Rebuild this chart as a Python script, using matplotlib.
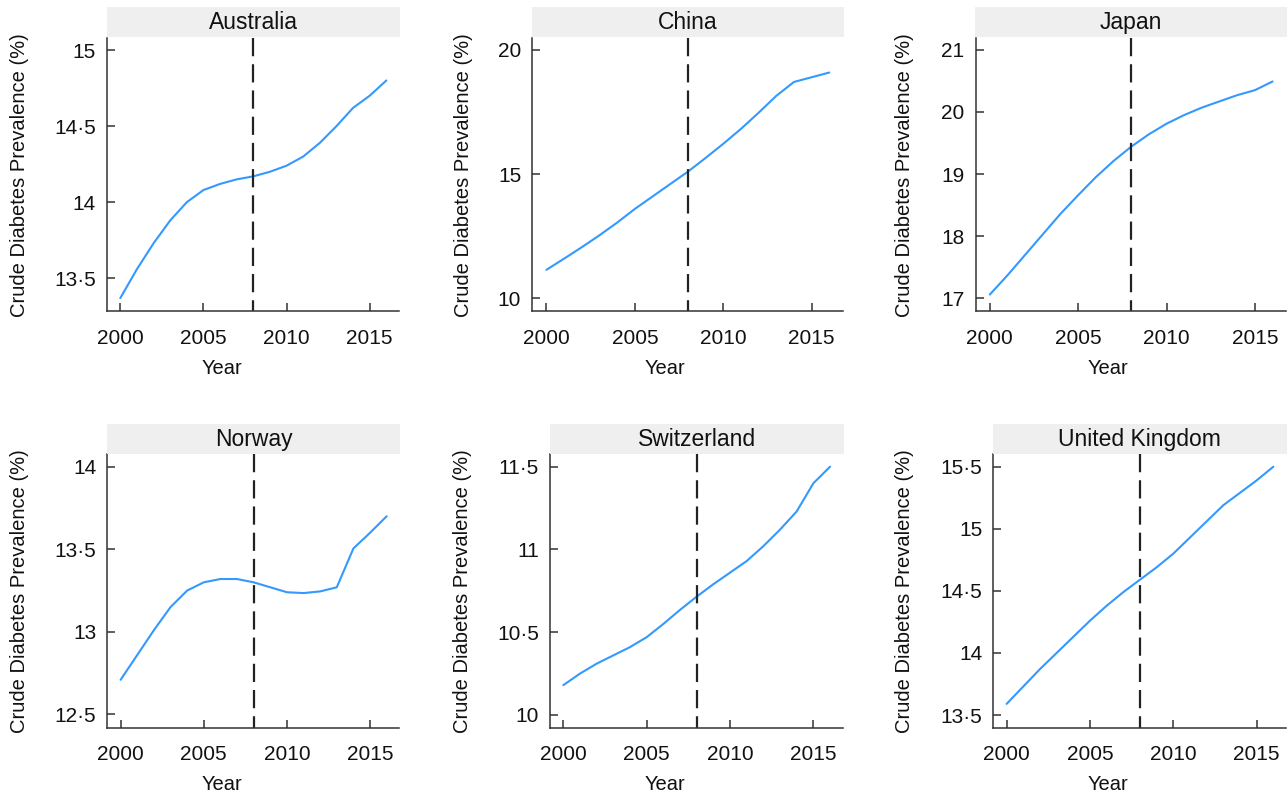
import matplotlib
matplotlib.use("Agg")
import matplotlib.pyplot as plt
from matplotlib.ticker import FixedLocator, FuncFormatter

plt.rcParams["font.family"] = ["Liberation Sans", "DejaVu Sans"]

# ---- data -------------------------------------------------------------
years = list(range(2000, 2017))

australia = [13.37, 13.56, 13.73, 13.88, 14.00, 14.08, 14.12, 14.15, 14.17,
             14.20, 14.24, 14.30, 14.39, 14.50, 14.62, 14.70, 14.80]
china = [11.15, 11.60, 12.06, 12.54, 13.05, 13.60, 14.10, 14.60, 15.10,
         15.65, 16.22, 16.82, 17.47, 18.15, 18.71, 18.90, 19.09]
japan = [17.06, 17.37, 17.70, 18.03, 18.36, 18.66, 18.95, 19.21, 19.44,
         19.64, 19.81, 19.95, 20.07, 20.17, 20.27, 20.35, 20.49]
norway = [12.71, 12.86, 13.01, 13.15, 13.25, 13.30, 13.32, 13.32, 13.30,
          13.27, 13.24, 13.235, 13.245, 13.27, 13.505, 13.60, 13.70]
switzerland = [10.18, 10.25, 10.31, 10.36, 10.41, 10.47, 10.55, 10.635, 10.715,
               10.79, 10.86, 10.93, 11.02, 11.12, 11.23, 11.40, 11.50]
united_kingdom = [13.59, 13.73, 13.87, 14.00, 14.13, 14.26, 14.38, 14.49, 14.59,
                  14.69, 14.80, 14.93, 15.06, 15.19, 15.29, 15.39, 15.50]

countries = ["Australia", "China", "Japan", "Norway", "Switzerland", "United Kingdom"]
series = [australia, china, japan, norway, switzerland, united_kingdom]

australia_ticks = [13.5, 14, 14.5, 15]
china_ticks = [10, 15, 20]
japan_ticks = [17, 18, 19, 20, 21]
norway_ticks = [12.5, 13, 13.5, 14]
switzerland_ticks = [10, 10.5, 11, 11.5]
united_kingdom_ticks = [13.5, 14, 14.5, 15, 15.5]
ytick_sets = [australia_ticks, china_ticks, japan_ticks,
              norway_ticks, switzerland_ticks, united_kingdom_ticks]

xticks = [2000, 2005, 2010, 2015]
intervention_year = 2008

# ---- layout (pixels: left, right, top, bottom) and y ranges ------------
W, H = 1288, 797
panels = [
    dict(box=(107.0, 399.0, 38.0, 311.3), ylim=(13.283, 15.079), ylab=19.5, year=221.7),
    dict(box=(532.3, 842.7, 38.0, 311.3), ylim=(9.48, 20.48), ylab=463.0, year=665.0),
    dict(box=(975.7, 1286.0, 38.0, 311.3), ylim=(16.79, 21.19), ylab=905.0, year=1108.0),
    dict(box=(107.3, 399.3, 454.3, 727.7), ylim=(12.42, 14.075), ylab=19.5, year=221.7),
    dict(box=(550.0, 842.7, 454.3, 727.7), ylim=(9.923, 11.575), ylab=462.5, year=665.0),
    dict(box=(993.3, 1286.0, 454.3, 727.7), ylim=(13.398, 15.60), ylab=904.7, year=1108.3),
]
xlim = (1999.2, 2016.76)

line_color = "#3399FF"
axis_color = "#333333"
strip_color = "#EFEFEF"
text_color = "#111111"


def dot_decimal(v, pos):
    return f"{v:g}".replace(".", "\u00b7")


fig = plt.figure(figsize=(W / 100, H / 100), dpi=100)

for name, vals, yt, p in zip(countries, series, ytick_sets, panels):
    l, r, t, b = p["box"]
    ax = fig.add_axes([l / W, 1 - b / H, (r - l) / W, (b - t) / H])
    ax.plot(years, vals, color=line_color, lw=1.5, solid_capstyle="round")
    # reference year, dashed from the top of the panel downwards
    ax.plot([intervention_year, intervention_year], [p["ylim"][1], p["ylim"][0]],
            color="#222222", lw=1.6, linestyle=(0, (8.2, 3.6)))
    ax.set_xlim(*xlim)
    ax.set_ylim(*p["ylim"])
    ax.xaxis.set_major_locator(FixedLocator(xticks))
    ax.yaxis.set_major_locator(FixedLocator(yt))
    ax.yaxis.set_major_formatter(FuncFormatter(dot_decimal))
    for side in ("top", "right"):
        ax.spines[side].set_visible(False)
    for side in ("left", "bottom"):
        ax.spines[side].set_color(axis_color)
        ax.spines[side].set_linewidth(1.1)
    ax.tick_params(direction="in", length=5.8, width=1.1, color=axis_color,
                   labelsize=15, labelcolor=text_color)
    ax.tick_params(axis="y", pad=8.0)
    ax.tick_params(axis="x", pad=12.5)

    # axis titles
    fig.text(p["ylab"] / W, 1 - ((t + b) / 2) / H, "Crude Diabetes Prevalence (%)",
             rotation=90, ha="center", va="center", fontsize=14.5, color=text_color)
    fig.text(p["year"] / W, 1 - (b + 57) / H, "Year",
             ha="center", va="center", fontsize=14.5, color=text_color)

    # facet strip
    st = fig.add_axes([(l - 0.5) / W, 1 - (t - 0.7) / H, (r - l + 1.5) / W, 30 / H])
    st.set_facecolor(strip_color)
    st.set_xticks([])
    st.set_yticks([])
    for s in st.spines.values():
        s.set_visible(False)
    st.text(0.5, 0.48, name, ha="center", va="center", fontsize=16.5,
            color=text_color, transform=st.transAxes)

fig.savefig("out.png", dpi=100, facecolor="white")
